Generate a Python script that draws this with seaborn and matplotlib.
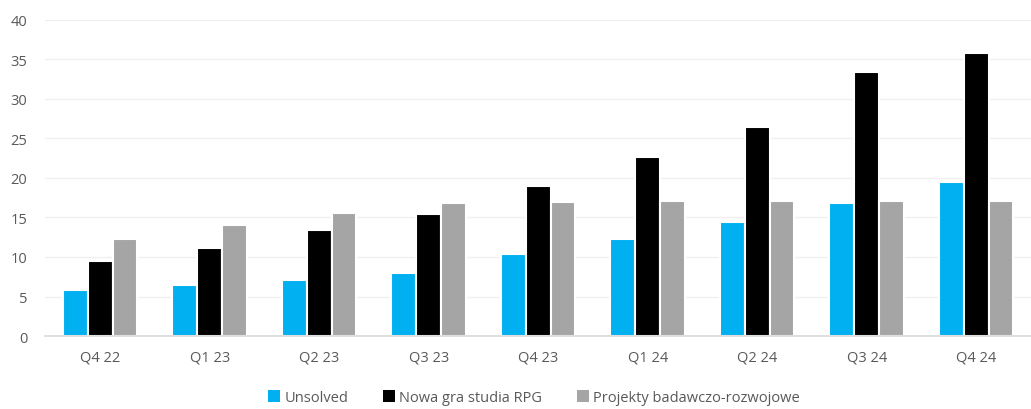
import numpy as np
import pandas as pd
import matplotlib
matplotlib.use('Agg')
import matplotlib.pyplot as plt
import seaborn as sns
from matplotlib.patches import Patch

quarters = ['Q4 22', 'Q1 23', 'Q2 23', 'Q3 23', 'Q4 23', 'Q1 24', 'Q2 24', 'Q3 24', 'Q4 24']
unsolved = [5.8, 6.4, 7.1, 8.0, 10.4, 12.3, 14.4, 16.8, 19.5]
nowa_gra = [9.5, 11.1, 13.4, 15.4, 19.0, 22.6, 26.5, 33.4, 35.8]
projekty = [12.3, 14.0, 15.6, 16.8, 17.0, 17.1, 17.1, 17.1, 17.1]
series_names = ['Unsolved', 'Nowa gra studia RPG', 'Projekty badawczo-rozwojowe']
colors = ['#00B0F0', '#000000', '#A5A5A5']

df = pd.DataFrame({
    'quarter': quarters * 3,
    'value': unsolved + nowa_gra + projekty,
    'series': [series_names[0]] * 9 + [series_names[1]] * 9 + [series_names[2]] * 9,
})

sns.set_style('white')
plt.rcParams['font.family'] = ['Open Sans', 'DejaVu Sans']

fig = plt.figure(figsize=(10.31, 4.10), dpi=100)
ax = fig.add_axes([0.044, 0.178, 0.956, 0.771])

sns.barplot(data=df, x='quarter', y='value', hue='series', palette=colors,
            saturation=1, width=0.68, edgecolor='white', linewidth=1.5,
            ax=ax, legend=False)

ax.set_ylim(0, 40)
ax.set_yticks(range(0, 41, 5))
ax.set_xlim(-0.5, len(quarters) - 0.5)
ax.yaxis.grid(True, color='#F0F0F0', linewidth=1)
ax.set_axisbelow(True)
for s in ['top', 'right', 'left']:
    ax.spines[s].set_visible(False)
ax.spines['bottom'].set_color('#D9D9D9')
ax.spines['bottom'].set_linewidth(1.2)
ax.tick_params(axis='both', length=0, labelsize=10.5, colors='#595959')
ax.tick_params(axis='x', pad=10)
ax.tick_params(axis='y', pad=13)
ax.set_xlabel('')
ax.set_ylabel('')

handles = [Patch(facecolor=c, edgecolor='none') for c in colors]
fig.legend(handles, series_names, loc='center', bbox_to_anchor=(0.518, 0.028),
           ncol=3, frameon=False, fontsize=10.5, handlelength=0.8, handleheight=0.8,
           handletextpad=0.3, columnspacing=2.4, labelcolor='#595959')

fig.savefig('out.png', dpi=100)
